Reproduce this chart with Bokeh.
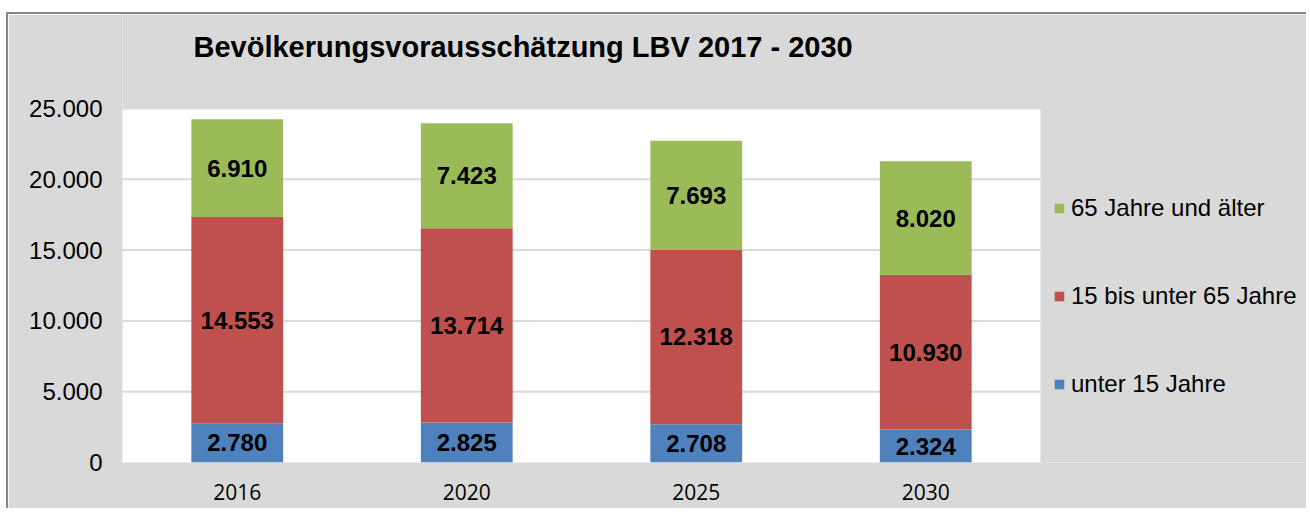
from bokeh.plotting import figure
from bokeh.models import ColumnDataSource, Legend, LegendItem, FixedTicker, Label, Range1d
from bokeh.embed import file_html
from bokeh.resources import INLINE
from bokeh.core.properties import value

years = ["2016", "2020", "2025", "2030"]
under15 = [2780, 2825, 2708, 2324]
mid = [14553, 13714, 12318, 10930]
over65 = [6910, 7423, 7693, 8020]
series_names = ["unter 15 Jahre", "15 bis unter 65 Jahre", "65 Jahre und älter"]
colors = ["#4f81bd", "#c0504d", "#9bbb59"]
y_ticks = [0, 5000, 10000, 15000, 20000, 25000]
y_max = 25000
title_text = "Bevölkerungsvorausschätzung LBV 2017 - 2030"


def de(v):
    return f"{v:,}".replace(",", ".")


# layout (pixels)
W, H = 1300, 496
BL, BB = 114, 48            # left / bottom borders of the frame
PLOT_W, PLOT_H = 918, 354   # white plot area size
frame_w = W - BL
frame_h = H - BB
n = len(years)
x_end = n * frame_w / PLOT_W
y_end = y_max * frame_h / PLOT_H
xs = [i + 0.5 for i in range(n)]

p = figure(x_range=Range1d(0, x_end), y_range=Range1d(0, y_end), width=W, height=H,
           output_backend="svg", toolbar_location=None,
           min_border_left=BL, min_border_right=0, min_border_top=0,
           min_border_bottom=BB)
p.margin = (12, 0, 0, 6)
p.styles = {"border-top": "2px solid #878787", "border-left": "2px solid #878787"}
p.background_fill_color = "#d9d9d9"
p.border_fill_color = "#d9d9d9"
p.outline_line_color = None

# white plot area and grid lines
p.quad(left=[0], right=[n], bottom=[0], top=[y_max], color="white", line_color=None)
p.segment(x0=[0] * (len(y_ticks) - 1), x1=[n] * (len(y_ticks) - 1), y0=y_ticks[1:],
          y1=y_ticks[1:], line_color="#d9d9d9", line_width=2)

src = ColumnDataSource({"x": xs, "a": under15, "b": mid, "c": over65})
rs = p.vbar_stack(["a", "b", "c"], x="x", width=0.4, source=src,
                  color=colors, line_color=None)

bottoms = [0] * n
lab_x, lab_y, lab_t = [], [], []
for vals in (under15, mid, over65):
    for i, v in enumerate(vals):
        lab_x.append(xs[i])
        lab_y.append(bottoms[i] + v / 2)
        lab_t.append(de(v))
        bottoms[i] += v
lsrc = ColumnDataSource(dict(x=lab_x, y=lab_y, t=lab_t))
p.text(x="x", y="y", text="t", source=lsrc, text_align="center",
       text_baseline="middle", text_font=value("Liberation Sans"),
       text_font_style="bold", text_font_size="24px", text_color="black")

p.xgrid.grid_line_color = None
p.ygrid.grid_line_color = None
p.yaxis.ticker = FixedTicker(ticks=y_ticks)
p.yaxis.major_label_overrides = {t: de(t) for t in y_ticks}
p.xaxis.ticker = FixedTicker(ticks=xs)
p.xaxis.major_label_overrides = {x: y for x, y in zip(xs, years)}
for ax in (p.xaxis[0], p.yaxis[0]):
    ax.axis_line_color = None
    ax.major_tick_line_color = None
    ax.minor_tick_line_color = None
    ax.major_label_text_color = "black"
    ax.major_tick_out = 0
    ax.major_tick_in = 0
p.yaxis.major_label_text_font = "Liberation Sans"
p.yaxis.major_label_text_font_size = "24px"
p.yaxis.major_label_standoff = 20
p.xaxis.major_label_text_font = "Open Sans"
p.xaxis.major_label_text_font_size = "21px"
p.xaxis.major_label_standoff = 21

title = Label(x=71, y=416, x_units="screen", y_units="screen", text=title_text,
              text_font="Liberation Sans", text_font_size="29px",
              text_font_style="bold", text_color="black", text_baseline="alphabetic")
p.add_layout(title)

items = [LegendItem(label=series_names[i], renderers=[rs[i]]) for i in (2, 1, 0)]
leg = Legend(items=items, location=(PLOT_W + 13, 64), background_fill_alpha=0,
             border_line_color=None, label_text_font="Liberation Sans",
             label_text_font_size="24px", label_text_color="black",
             glyph_width=12, glyph_height=12,
             label_height=20, spacing=60, label_standoff=6, padding=0, margin=0)
p.add_layout(leg, "center")

open("out.html", "w").write(file_html(p, INLINE))
